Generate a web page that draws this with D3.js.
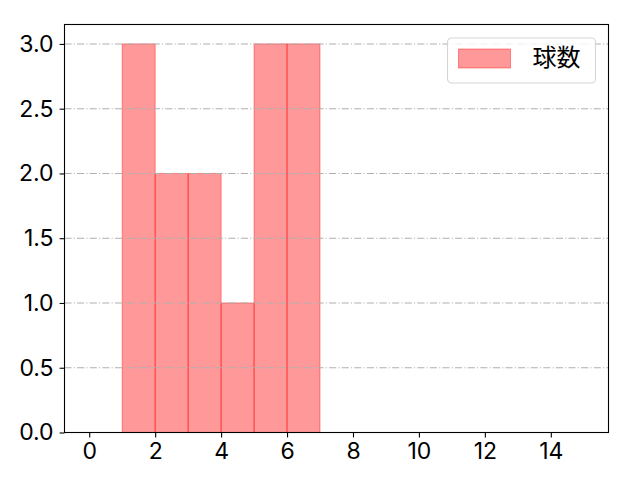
<!DOCTYPE html>
<html>
<head>
<meta charset="utf-8">
<script src="https://cdn.jsdelivr.net/npm/d3@7"></script>
<style>
  body { margin: 0; background: #fff; }
  text { font-family: Inter, "Noto Sans CJK JP", sans-serif; }
</style>
</head>
<body>
<div id="chart"></div>
<script>
// histogram data
var binEdges = [1, 2, 3, 4, 5, 6, 7];
var counts = [3, 2, 2, 1, 3, 3];
var xTicks = [0, 2, 4, 6, 8, 10, 12, 14];
var yTicks = [0, 0.5, 1.0, 1.5, 2.0, 2.5, 3.0];
var seriesName = "球数";

var svgWidth = 640;
var svgHeight = 480;

var margin = { top: 24.5, right: 31.5, bottom: 47.5, left: 64.5 };

var width = svgWidth - margin.left - margin.right;
var height = svgHeight - margin.top - margin.bottom;

var svg = d3.select("#chart")
    .append("svg")
    .attr("width", svgWidth)
    .attr("height", svgHeight);

var chartGroup = svg.append("g")
    .attr("transform", `translate(${margin.left}, ${margin.top})`);

var xScale = d3.scaleLinear()
    .domain([-0.75, 15.75])
    .range([0, width]);

var yScale = d3.scaleLinear()
    .domain([0, 3.15])
    .range([height, 0]);

var bins = counts.map((c, i) => ({ x0: binEdges[i], x1: binEdges[i + 1], count: c }));

// bars
chartGroup.append("g").selectAll("rect")
    .data(bins)
    .enter()
    .append("rect")
    .attr("x", d => xScale(d.x0))
    .attr("y", d => yScale(d.count))
    .attr("width", d => xScale(d.x1) - xScale(d.x0))
    .attr("height", d => yScale(0) - yScale(d.count))
    .attr("fill", "rgba(255,0,0,0.4)")
    .attr("stroke", "rgba(255,0,0,0.4)")
    .attr("stroke-width", 1);

// horizontal grid, drawn over the bars
chartGroup.append("g").selectAll("line")
    .data(yTicks)
    .enter()
    .append("line")
    .attr("x1", 0)
    .attr("x2", width)
    .attr("y1", d => yScale(d))
    .attr("y2", d => yScale(d))
    .attr("stroke", "#b0b0b0")
    .attr("stroke-width", 1.1)
    .attr("stroke-dasharray", "7.1,2.2,1.1,2.2");

// axes
var bottomAxis = d3.axisBottom(xScale)
    .tickValues(xTicks)
    .tickSize(4.9)
    .tickPadding(4.8)
    .tickFormat(d3.format("d"));

var leftAxis = d3.axisLeft(yScale)
    .tickValues(yTicks)
    .tickSize(4.9)
    .tickPadding(6)
    .tickFormat(d3.format(".1f"));

var xAxis = chartGroup.append("g")
    .attr("transform", `translate(0, ${height})`)
    .call(bottomAxis);

var yAxis = chartGroup.append("g")
    .call(leftAxis);

[xAxis, yAxis].forEach(function(ax) {
    ax.select(".domain").remove();
    ax.selectAll(".tick line").attr("stroke", "#000").attr("stroke-width", 1.1);
    ax.selectAll(".tick text")
        .attr("fill", "#000")
        .style("font-size", "23px")
        .style("font-family", "Inter, sans-serif");
});

// frame
chartGroup.append("rect")
    .attr("x", 0)
    .attr("y", 0)
    .attr("width", width)
    .attr("height", height)
    .attr("fill", "none")
    .attr("stroke", "#000")
    .attr("stroke-width", 1.1);

// legend
var legend = svg.append("g")
    .attr("transform", "translate(447.5, 38)");

legend.append("rect")
    .attr("width", 148)
    .attr("height", 45)
    .attr("rx", 4)
    .attr("fill", "rgba(255,255,255,0.8)")
    .attr("stroke", "#d6d6d6")
    .attr("stroke-width", 1.1);

legend.append("rect")
    .attr("x", 11)
    .attr("y", 11)
    .attr("width", 52)
    .attr("height", 19)
    .attr("fill", "rgba(255,0,0,0.4)")
    .attr("stroke", "rgba(255,0,0,0.4)")
    .attr("stroke-width", 1);

legend.append("text")
    .attr("x", 85)
    .attr("y", 28)
    .attr("fill", "#000")
    .style("font-size", "24px")
    .style("font-family", "'Noto Sans CJK JP', sans-serif")
    .text(seriesName);
</script>
</body>
</html>
